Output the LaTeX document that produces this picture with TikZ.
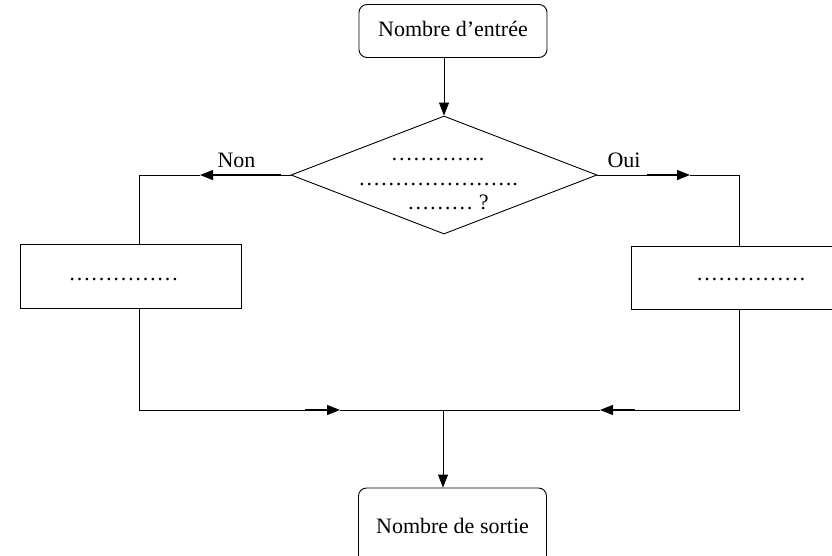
\documentclass[tikz,border=0pt]{standalone}
\usepackage{fontspec}
\setmainfont{Liberation Serif}
\usetikzlibrary{arrows.meta,shapes.geometric}

\begin{document}
\begin{tikzpicture}[x=1pt, y=-1pt, line width=0.9pt,
  every node/.style={font=\fontsize{22}{25}\selectfont},
  link/.style={line width=0.9pt},
  head/.style={-{Triangle[length=13pt,width=10pt]}},
  shaft/.style={head, line width=1.4pt},
  roundbox/.style={draw, line width=0.9pt, rounded corners=8pt, minimum width=188pt,
    inner sep=0pt, text height=15pt, text depth=4.5pt},
  actionbox/.style={draw, line width=0.9pt, minimum width=221pt, inner sep=0pt},
  decision/.style={draw, diamond, line width=0.9pt, minimum width=306pt,
    minimum height=118pt, inner sep=0pt},
  plain/.style={anchor=base, inner sep=0pt}]
\useasboundingbox (0,0) rectangle (832,555);
\clip (0,0) rectangle (832,555);

% boxes
\node[roundbox, minimum height=53pt] (entree) at (453,31) {Nombre d’entrée};
\node[decision] (dec) at (444,175) {};
\node[plain] (q1) at (437.5,160) {………….};
\node[plain] (q2) at (438,185) {………………….};
\node[plain] (q3) at (448,209.5) {……… ?};
\node[actionbox, minimum height=64pt] (lbox) at (130.5,276) {};
\node[plain] (ltxt) at (123.5,280) {……………};
\node[actionbox, minimum height=63pt] (rbox) at (741.5,277.5) {};
\node[plain] (rtxt) at (751,280) {……………};
\node[roundbox, minimum height=80pt] (sortie) at (452.5,528) {Nombre de sortie};

% branch labels
\node[plain] (non) at (236.5,167) {Non};
\node[plain] (oui) at (624,167) {Oui};

% routing points
\coordinate (nS) at (281,175);
\coordinate (nA) at (200,175);
\coordinate (nC) at (139,175);
\coordinate (oS) at (647,175);
\coordinate (oA) at (690,175);
\coordinate (oC) at (739,175);
\coordinate (jL) at (139,410);
\coordinate (blS) at (305,410);
\coordinate (blA) at (340,410);
\coordinate (J) at (443,410);
\coordinate (brS) at (635,410);
\coordinate (brA) at (600,410);
\coordinate (jR) at (739,410);

% input to decision
\draw[head] (dec.north |- entree.south) -- (dec.north);

% "Non" branch
\draw[link] (dec.west) -- (nS);
\draw[shaft] (nS) -- (nA);
\draw[link] (nA) -- (nC) -- (nC |- lbox.north);
\draw[link] (nC |- lbox.south) -- (jL) -- (blS);
\draw[shaft] (blS) -- (blA);
\draw[link] (blA) -- (J);

% "Oui" branch
\draw[link] (dec.east) -- (oS);
\draw[shaft] (oS) -- (oA);
\draw[link] (oA) -- (oC) -- (oC |- rbox.north);
\draw[link] (oC |- rbox.south) -- (jR) -- (brS);
\draw[shaft] (brS) -- (brA);
\draw[link] (brA) -- (J);

% merged output
\draw[head] (J) -- (J |- sortie.north);
\end{tikzpicture}
\end{document}
